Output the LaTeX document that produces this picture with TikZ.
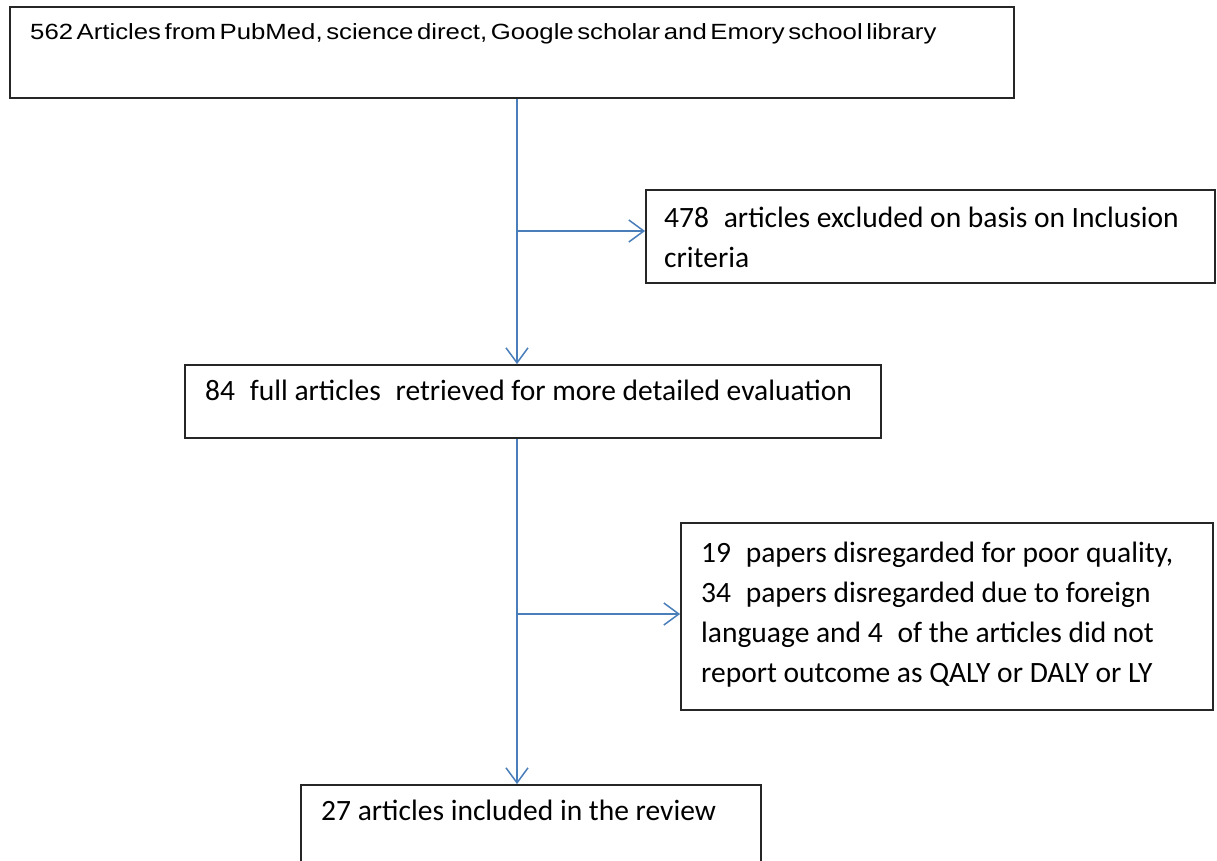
\documentclass[tikz,border=0pt]{standalone}
\usepackage{fontspec}
\setmainfont{Carlito}
\newfontfamily\narrowfont[FakeStretch=1.17,WordSpace=0.5]{Liberation Sans}
\usetikzlibrary{arrows.meta}
\definecolor{linkblue}{HTML}{4A7EBB}
\tikzset{
  box/.style={draw=black!85, line width=1.8pt, rectangle, inner sep=0pt},
  txt/.style={anchor=base west, inner sep=0pt, font=\fontsize{29.5}{40}\selectfont},
  mtxt/.style={anchor=north west, inner sep=0pt, align=left, font=\fontsize{29.5}{40}\selectfont},
  arr/.style={draw=linkblue, line width=1.5pt, -{Straight Barb[length=15pt,width=22pt,line width=1.5pt]}},
}
\begin{document}
\begin{tikzpicture}[x=1pt,y=-1pt]
\useasboundingbox (0,0) rectangle (1217,860);
\clip (0,0) rectangle (1217,860);
% boxes
\node[box, minimum width=1004pt, minimum height=91pt] (b1) at (512,52.5) {};
\node[box, minimum width=569pt, minimum height=93pt] (b2) at (930.5,236.5) {};
\node[box, minimum width=696pt, minimum height=73pt] (b3) at (533,401.5) {};
\node[box, minimum width=532pt, minimum height=187pt] (b4) at (947,616.5) {};
\node[box, minimum width=460pt, minimum height=110pt] (b5) at (531,840) {};
% texts
\node[anchor=base west, inner sep=0pt, font=\narrowfont\fontsize{22}{26}\selectfont] (t1) at (30,39) {562 Articles from PubMed, science direct, Google scholar and Emory school library};
\node[mtxt] (t2) at (664,199) {\strut 478\enspace articles excluded on basis on Inclusion\\criteria};
\node[txt] (t3) at (205,400) {84\enspace full articles\enspace retrieved for more detailed evaluation};
\node[mtxt] (t4) at (701,534) {\strut 19\enspace papers disregarded for poor quality,\\34\enspace papers disregarded due to foreign\\language and 4\enspace of the articles did not\\report outcome as QALY or DALY or LY};
\node[txt] (t5) at (321,820) {27 articles included in the review};
% junctions
\coordinate (j1) at (517,231);
\coordinate (j2) at (517,614);
% connectors
\draw[arr] (b1.south -| j1) -- (b3.north -| j1);
\draw[arr] (j1) -- (b2.west |- j1);
\draw[arr] (b3.south -| j2) -- (b5.north -| j2);
\draw[arr] (j2) -- (b4.west |- j2);
\end{tikzpicture}
\end{document}
